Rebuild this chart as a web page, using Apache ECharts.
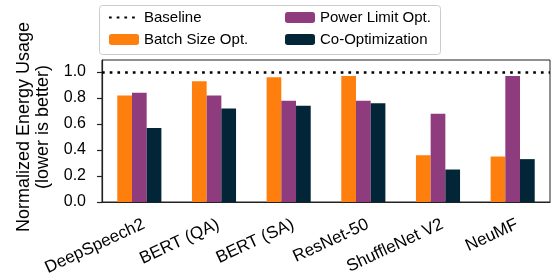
<!DOCTYPE html>
<html>
<head>
<meta charset="utf-8">
<script src="https://cdn.jsdelivr.net/npm/echarts@6/dist/echarts.min.js"></script>
<style>
  html, body { margin: 0; padding: 0; background: #fff; }
  #chart { width: 553px; height: 279px; }
</style>
</head>
<body>
<div id="chart"></div>
<script>
// values
const categories = ["DeepSpeech2", "BERT (QA)", "BERT (SA)", "ResNet-50", "ShuffleNet V2", "NeuMF"];
const batchSizeOpt = [0.82, 0.93, 0.96, 0.97, 0.36, 0.35];
const powerLimitOpt = [0.84, 0.82, 0.78, 0.78, 0.68, 0.97];
const coOptimization = [0.57, 0.72, 0.74, 0.76, 0.25, 0.33];
const baseline = 1.0;
const yTicks = [0, 0.2, 0.4, 0.6, 0.8, 1.0];

const font = "Liberation Sans, Arial, sans-serif";

const chart = echarts.init(document.getElementById("chart"));

const legendText = { fontSize: 15, color: "#000", lineHeight: 17, padding: [0, 0, 0, 0] };

const option = {
  animation: false,
  textStyle: { fontFamily: font },
  grid: {
    left: 102,
    right: 3,
    top: 60,
    bottom: 77,
    outerBoundsMode: "none",
    show: true,
    borderColor: "#222",
    borderWidth: 1
  },
  legend: [
    {
      left: 103,
      top: 4,
      orient: "vertical",
      itemWidth: 30,
      itemHeight: 11,
      itemGap: 5,
      data: ["Baseline", "Batch Size Opt."],
      textStyle: legendText
    },
    {
      left: 280,
      top: 4,
      orient: "vertical",
      itemWidth: 30,
      itemHeight: 11,
      itemGap: 5,
      data: ["Power Limit Opt.", "Co-Optimization"],
      textStyle: legendText
    }
  ],
  graphic: [
    {
      type: "rect",
      left: 97,
      top: 3,
      shape: { width: 341, height: 49, r: 3 },
      style: { fill: "none", stroke: "#cccccc", lineWidth: 1 },
      z: -1
    }
  ],
  xAxis: {
    type: "category",
    data: categories,
    axisLine: { lineStyle: { color: "#222", width: 1.2 } },
    axisTick: { alignWithLabel: true, length: 5, lineStyle: { color: "#222", width: 1.2 } },
    axisLabel: {
      rotate: 25,
      fontSize: 17,
      color: "#000",
      margin: 12,
      verticalAlign: "top",
      lineHeight: 21,
      interval: 0
    },
    splitLine: { show: false }
  },
  yAxis: {
    type: "value",
    min: 0,
    max: 1.093,
    name: "Normalized Energy Usage\n(lower is better)",
    nameLocation: "middle",
    nameGap: 48,
    nameTextStyle: { fontSize: 18, color: "#000", lineHeight: 19, padding: [0, 0, 0, 8] },
    axisLine: { show: true, lineStyle: { color: "#222", width: 1.2 } },
    axisTick: { show: true, length: 5, customValues: yTicks, lineStyle: { color: "#222", width: 1.2 } },
    axisLabel: {
      fontSize: 16,
      color: "#000",
      margin: 16,
      customValues: yTicks,
      formatter: v => v.toFixed(1)
    },
    splitLine: { show: false }
  },
  series: [
    {
      name: "Baseline",
      type: "line",
      data: [],
      symbol: "none",
      lineStyle: { color: "#000", width: 2.7, type: [2.7, 5] },
      itemStyle: { color: "rgba(0,0,0,0)" },
      markLine: {
        silent: true,
        symbol: "none",
        label: { show: false },
        lineStyle: { color: "#000", width: 2.7, type: [2.7, 5] },
        data: [{ yAxis: baseline }]
      },
      z: 5
    },
    {
      name: "Batch Size Opt.",
      type: "bar",
      data: batchSizeOpt,
      barWidth: 14.7,
      barGap: "0%",
      itemStyle: { color: "#ff7f0e" }
    },
    {
      name: "Power Limit Opt.",
      type: "bar",
      data: powerLimitOpt,
      barWidth: 14.7,
      barGap: "0%",
      itemStyle: { color: "#8e3c7d" }
    },
    {
      name: "Co-Optimization",
      type: "bar",
      data: coOptimization,
      barWidth: 14.7,
      barGap: "0%",
      itemStyle: { color: "#022537" }
    }
  ]
};

chart.setOption(option);
</script>
</body>
</html>
